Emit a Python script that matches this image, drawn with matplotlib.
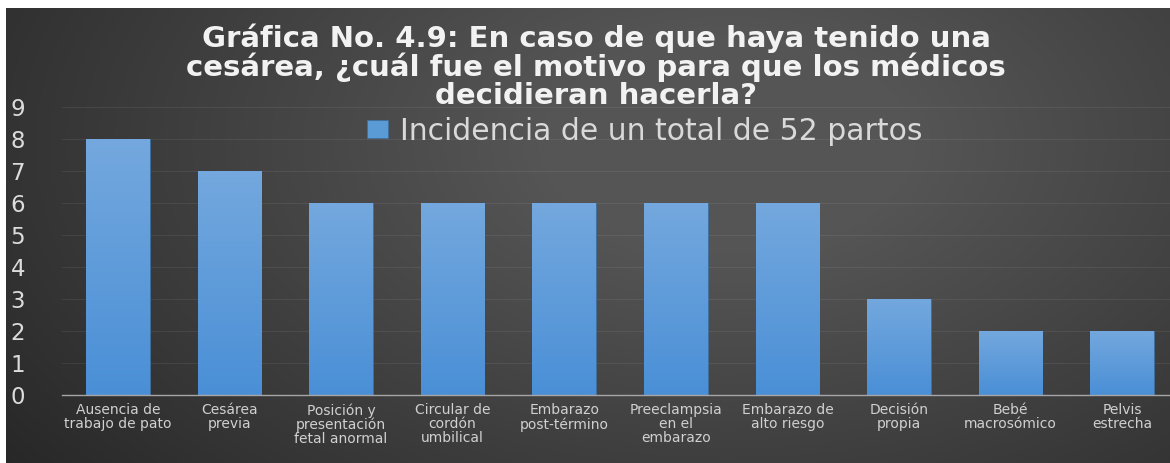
import numpy as np
import matplotlib
matplotlib.use("Agg")
import matplotlib.pyplot as plt
from matplotlib.colors import LinearSegmentedColormap

# Chart data
categories = [
    "Ausencia de\ntrabajo de pato",
    "Cesárea\nprevia",
    "Posición y\npresentación\nfetal anormal",
    "Circular de\ncordón\numbilical",
    "Embarazo\npost-término",
    "Preeclampsia\nen el\nembarazo",
    "Embarazo de\nalto riesgo",
    "Decisión\npropia",
    "Bebé\nmacrosómico",
    "Pelvis\nestrecha",
]
values = [8, 7, 6, 6, 6, 6, 6, 3, 2, 2]
series_name = "Incidencia de un total de 52 partos"
title = ("Gráfica No. 4.9: En caso de que haya tenido una\n"
         "cesárea, ¿cuál fue el motivo para que los médicos\n"
         "decidieran hacerla?")
y_ticks = list(range(0, 10))

W, H = 1170, 463
fig = plt.figure(figsize=(W / 100, H / 100), dpi=100, facecolor="white")

# Dark slide-style background with a soft radial glow
bg = fig.add_axes([6 / W, 0, 1 - 6 / W, 1 - 8 / H])
bg.set_axis_off()
yy, xx = np.mgrid[0:1:300j, 0:1:700j]
r = np.sqrt(((xx - 0.62) / 0.8) ** 2 + ((yy - 0.30) / 1.2) ** 2)
glow = np.clip(1 - r, 0, 1)
bg_cmap = LinearSegmentedColormap.from_list("bg", ["#262626", "#555555"])
bg.imshow(glow, cmap=bg_cmap, aspect="auto", extent=[0, 1, 1, 0], vmin=0, vmax=0.8)
bg.set_xlim(0, 1)
bg.set_ylim(1, 0)

ax = fig.add_axes([62 / W, 1 - 395 / H, 1116 / W, (395 - 107) / H])
ax.set_facecolor("none")

x = np.arange(len(categories))
bars = ax.bar(x, values, width=0.57, color="#5b9bd5", edgecolor="#3f6f9f",
              linewidth=0.6, label=series_name, zorder=3)

# vertical gradient fill inside each bar
bar_cmap = LinearSegmentedColormap.from_list("bar", ["#4a8fd6", "#74a8de"])
grad = np.linspace(0, 1, 256).reshape(-1, 1)
for b in bars:
    x0, w, h = b.get_x(), b.get_width(), b.get_height()
    im = ax.imshow(grad, cmap=bar_cmap, origin="lower", aspect="auto",
                   extent=[x0, x0 + w, 0, h], zorder=3.5)
    im.set_clip_path(b)

ax.set_xlim(-0.5, len(categories) - 0.5)
ax.set_ylim(0, 9)
ax.set_yticks(y_ticks)
ax.yaxis.grid(True, color="white", alpha=0.07, linewidth=0.8, zorder=0)
ax.set_axisbelow(True)
for s in ["top", "right", "left"]:
    ax.spines[s].set_visible(False)
ax.spines["bottom"].set_color("#a6a6a6")
ax.spines["bottom"].set_linewidth(1.0)
ax.spines["bottom"].set_zorder(4)

ax.set_xticks(x)
ax.set_xticklabels(categories, fontsize=10, color="#d0d0d0",
                   family="DejaVu Sans", linespacing=0.98)
ax.tick_params(axis="x", length=0, pad=6)
ax.tick_params(axis="y", length=0, pad=37, labelsize=16.5, labelcolor="#dcdcdc")
for t in ax.get_yticklabels():
    t.set_family("DejaVu Sans")
    t.set_horizontalalignment("left")

fig.text(596 / W, 1 - 67 / H, title, ha="center", va="center",
         fontsize=21, fontweight="bold", color="#f2f2f2",
         family="DejaVu Sans", linespacing=0.98)

leg = ax.legend(loc="center", bbox_to_anchor=(645 / W, 1 - 131 / H),
                bbox_transform=fig.transFigure, frameon=False,
                handlelength=0.7, handleheight=0.55, handletextpad=0.4,
                prop={"family": "DejaVu Sans", "size": 21.5})
for t in leg.get_texts():
    t.set_color("#d9d9d9")

fig.savefig("out.png", dpi=100, facecolor="white")
